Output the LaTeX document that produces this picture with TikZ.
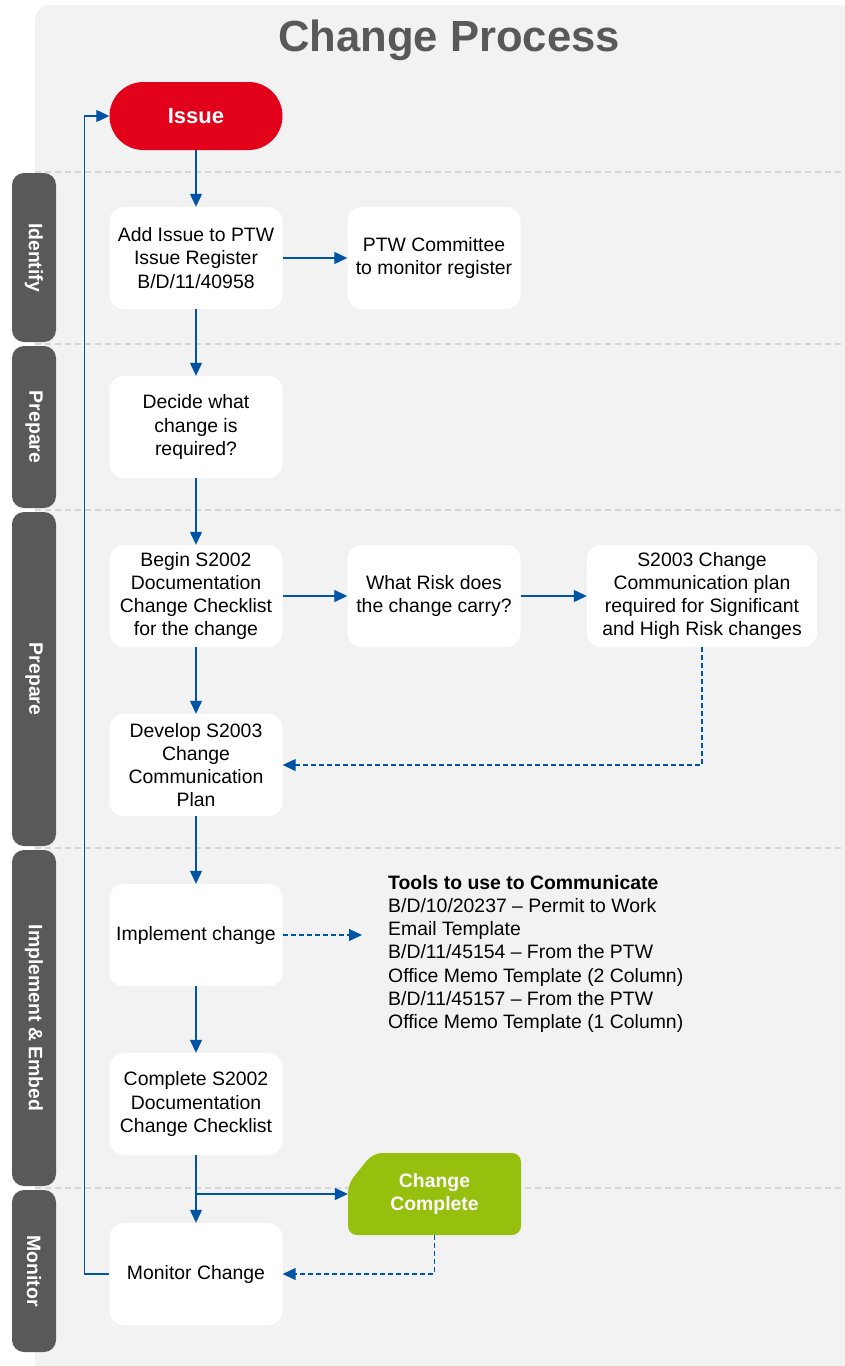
\documentclass[tikz,border=0pt]{standalone}
\usepackage{fontspec}
\setmainfont{Liberation Sans}
\usepackage{tikz}
\usetikzlibrary{arrows.meta, positioning, calc}
\definecolor{panelgray}{RGB}{242, 242, 242}
\definecolor{lanegray}{RGB}{89, 89, 89}
\definecolor{sepgray}{RGB}{214, 214, 214}
\definecolor{issuered}{RGB}{226, 0, 26}
\definecolor{donegreen}{RGB}{151, 191, 13}
\definecolor{flowblue}{RGB}{0, 84, 166}
\newcommand{\boxfont}{\fontsize{19.4}{23.2}\selectfont}

\begin{document}
\begin{tikzpicture}[
    x=1pt, y=-1pt,
    stepbox/.style={fill=white, rounded corners=14pt, minimum width=173pt, minimum height=102pt, inner sep=0pt, align=center, font=\boxfont},
    lane/.style={fill=lanegray, rounded corners=12pt, rotate=-90, minimum height=44pt, inner sep=0pt, text=white, font=\boxfont\bfseries},
    sep/.style={sepgray, line width=2.5pt, dash pattern=on 6pt off 4pt},
    arrow/.style={-{Triangle[length=13pt, width=12pt]}, flowblue, line width=1.2pt},
    dasharrow/.style={arrow, dash pattern=on 5pt off 3pt}
]
    \useasboundingbox (0,0) rectangle (845,1366);
    \clip (0,0) rectangle (845,1366);

    % panel and lanes
    \fill[panelgray, rounded corners=15pt] (35,5) rectangle (880,1400);
    \foreach \y in {172, 344, 510, 848, 1188}
        \draw[sep] (35,\y) -- (845,\y);

    \node[font=\fontsize{43.6}{50}\selectfont\bfseries, text=lanegray, anchor=base] (title) at (449,51) {Change Process};

    \node[lane, minimum width=169pt] (lidentify) at (34,257.5) {Identify};
    \node[lane, minimum width=162pt] (lprepare) at (34,427) {Prepare};
    \node[lane, minimum width=334pt] (lprepare2) at (34,679) {Prepare};
    \node[lane, minimum width=336pt] (limplement) at (34,1018) {Implement \& Embed};
    \node[lane, minimum width=162pt] (lmonitor) at (34,1271) {Monitor};

    % steps
    \node[stepbox, fill=issuered, minimum height=68pt, rounded corners=34pt, text=white, font=\fontsize{22}{26}\selectfont\bfseries] (issue) at (196,116) {Issue};
    \node[stepbox] (addissue) at (196,258) {Add Issue to PTW\\Issue Register\\B/D/11/40958};
    \node[stepbox] (committee) at (434,258) {PTW Committee\\to monitor register};
    \node[stepbox] (decide) at (196,427) {Decide what\\change is\\required?};
    \node[stepbox] (begin) at (196,596) {Begin S2002\\Documentation\\Change Checklist\\for the change};
    \node[stepbox] (risk) at (434,596) {What Risk does\\the change carry?};
    \node[stepbox, minimum width=230pt] (plan) at (702,596) {S2003 Change\\Communication plan\\required for Significant\\and High Risk changes};
    \node[stepbox] (develop) at (196,765) {Develop S2003\\Change\\Communication\\Plan};
    \node[stepbox] (implement) at (196,935) {Implement change};
    \node[stepbox] (complete) at (196,1104) {Complete S2002\\Documentation\\Change Checklist};
    % green end box with cut corner
    \fill[donegreen, rounded corners=9pt] (348,1184) -- (373,1153) -- (521,1153) -- (521,1235) -- (348,1235) -- cycle;
    \node[stepbox, fill=none, minimum height=82pt, text=white, font=\boxfont\bfseries] (done) at (434.5,1194) {Change\\Complete};
    \node[stepbox] (monitor) at (196,1274) {Monitor Change};

    \node[anchor=north west, align=left, inner sep=0pt, font=\boxfont] (tools) at (388,875) {\textbf{Tools to use to Communicate}\\B/D/10/20237 – Permit to Work\\Email Template\\B/D/11/45154 – From the PTW\\Office Memo Template (2 Column)\\B/D/11/45157 – From the PTW\\Office Memo Template (1 Column)};
    \coordinate (toolsin) at (362,935);

    % flow
    \draw[arrow] (issue) -- (addissue);
    \draw[arrow] (addissue) -- (committee);
    \draw[arrow] (addissue) -- (decide);
    \draw[arrow] (decide) -- (begin);
    \draw[arrow] (begin) -- (risk);
    \draw[arrow] (risk) -- (plan);
    \draw[arrow] (begin) -- (develop);
    \draw[dasharrow] (plan.south) |- (develop.east);
    \draw[arrow] (develop) -- (implement);
    \draw[dasharrow] (implement.east) -- (toolsin);
    \draw[arrow] (implement) -- (complete);
    \draw[arrow] (complete) -- (monitor);
    \draw[arrow] (complete.south |- done.west) -- (done.west);
    \draw[dasharrow] (done.south) |- (monitor.east);
    \draw[arrow] (monitor.west) -- ++(-25,0) |- (issue.west);
\end{tikzpicture}
\end{document}
